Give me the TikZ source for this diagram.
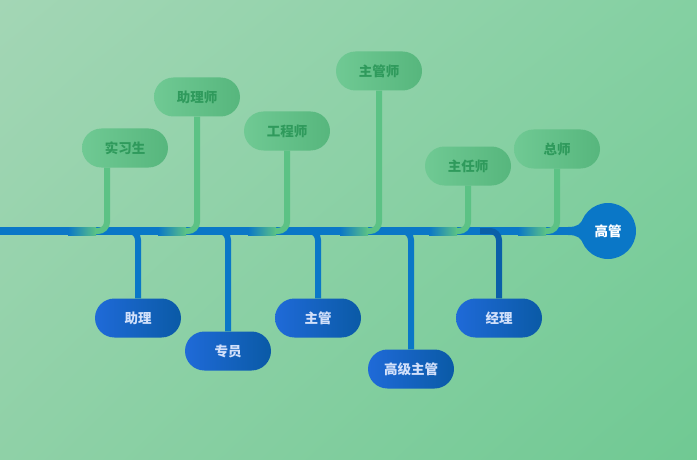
\documentclass[tikz,border=0pt]{standalone}
\usepackage{fontspec}
\newfontfamily\cjk{Noto Sans CJK SC}
\usetikzlibrary{shadings}

\definecolor{fondHG}{HTML}{A3D6B5}
\definecolor{fondHD}{HTML}{84D0A2}
\definecolor{fondBG}{HTML}{8FD1A7}
\definecolor{fondBD}{HTML}{70C993}
\definecolor{ligne}{HTML}{0A77C7}
\definecolor{lignefonce}{HTML}{0A5FA8}
\definecolor{vert}{HTML}{5CC285}
\definecolor{vertfonce}{HTML}{2F9A5C}
\definecolor{bleuA}{HTML}{1F6AD8}
\definecolor{bleuB}{HTML}{0A5AA6}
\definecolor{texteclair}{HTML}{D2E0FA}

\tikzset{
  poste haut/.style={rounded corners=19.5pt, minimum width=86pt, minimum height=39pt,
    left color=vert!88!white, right color=vert!94!black, text=vertfonce,
    font=\cjk\bfseries\fontsize{13.5}{15}\selectfont},
  poste bas/.style={rounded corners=19.5pt, minimum width=86pt, minimum height=39pt,
    left color=bleuA, right color=bleuB, text=texteclair,
    font=\cjk\bfseries\fontsize{13.5}{15}\selectfont},
  tige haut/.style={draw=vert, line width=6pt, rounded corners=9pt},
  tige bas/.style={draw=ligne, line width=6pt, rounded corners=9pt},
  fondu/.style={left color=ligne, right color=vert},
}

\begin{document}
\begin{tikzpicture}[x=1pt, y=-1pt]
  % fond
  \useasboundingbox (0,0) rectangle (697,460);
  \clip (0,0) rectangle (697,460);
  \fill[fondBG] (0,0) rectangle (697,460);
  \shade[upper left=fondHG, upper right=fondHD, lower left=fondBG, lower right=fondBD]
    (0,0) rectangle (697,460);

  % noeud final
  \node[circle, fill=ligne, minimum size=56pt, inner sep=0pt, text=white,
    font=\cjk\bfseries\fontsize{13.5}{15}\selectfont] (chef) at (608,231) {高管};

  % axe principal
  \draw[ligne, line width=8pt] (0,231) -- (chef);
  \fill[ligne] (568,227) .. controls (578,227) and (580,224) .. (584,218)
    -- (584,244) .. controls (580,238) and (578,235) .. (568,235) -- cycle;

  % postes du haut
  \node[poste haut] (stagiaire) at (125,148) {实习生};
  \node[poste haut] (assistantI) at (197,97) {助理师};
  \node[poste haut] (ingenieur) at (287,131) {工程师};
  \node[poste haut] (principal) at (379,71) {主管师};
  \node[poste haut] (directeur) at (468,166) {主任师};
  \node[poste haut] (general) at (557,149) {总师};

  % points de raccord en haut
  \coordinate (s1) at (107,231);
  \coordinate (g1) at (95,231);
  \coordinate (g2) at (185,231);
  \coordinate (g3) at (275,231);
  \coordinate (g4) at (367,231);
  \coordinate (g5) at (456,231);
  \coordinate (g6) at (545,231);

  % fondus bleu -> vert
  \shade[fondu] (68,227) rectangle (96,235);
  \shade[fondu] (158,227) rectangle (186,235);
  \shade[fondu] (248,227) rectangle (276,235);
  \shade[fondu] (340,227) rectangle (368,235);
  \shade[fondu] (429,227) rectangle (457,235);
  \shade[fondu] (518,227) rectangle (546,235);

  % tiges du haut
  \draw[tige haut] (stagiaire.south -| s1) |- (g1);
  \draw[tige haut] (assistantI.south) |- (g2);
  \draw[tige haut] (ingenieur.south) |- (g3);
  \draw[tige haut] (principal.south) |- (g4);
  \draw[tige haut] (directeur.south) |- (g5);
  \draw[tige haut] (general.south) |- (g6);

  % postes du bas
  \node[poste bas] (assistant) at (138,318) {助理};
  \node[poste bas] (specialiste) at (228,351) {专员};
  \node[poste bas] (superviseur) at (318,318) {主管};
  \node[poste bas] (superieur) at (411,369) {高级主管};
  \node[poste bas] (manager) at (499,318) {经理};

  % points de depart en bas
  \coordinate (d1) at (124,231);
  \coordinate (d2) at (214,231);
  \coordinate (d3) at (304,231);
  \coordinate (d4) at (397,231);
  \coordinate (d5) at (480,231);

  % tiges du bas
  \draw[tige bas] (d1) -| (assistant.north);
  \draw[tige bas] (d2) -| (specialiste.north);
  \draw[tige bas] (d3) -| (superviseur.north);
  \draw[tige bas] (d4) -| (superieur.north);
  \draw[tige bas, draw=lignefonce] (d5) -| (manager.north);
\end{tikzpicture}
\end{document}
